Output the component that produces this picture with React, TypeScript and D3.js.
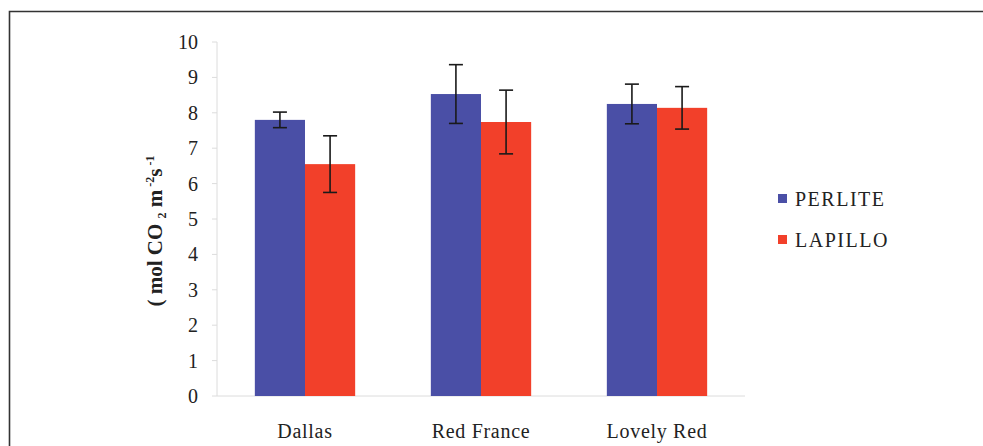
import React from "react";
import * as d3 from "d3";

const categories = ["Dallas", "Red France", "Lovely Red"];
const seriesNames = ["PERLITE", "LAPILLO"];
const perliteValues = [7.8, 8.53, 8.25];
const perliteErrors = [0.22, 0.83, 0.56];
const lapilloValues = [6.55, 7.74, 8.14];
const lapilloErrors = [0.8, 0.9, 0.6];
const yTicks = [0, 1, 2, 3, 4, 5, 6, 7, 8, 9, 10];

const colors = ["#4a4fa6", "#f2402a"];
const W = 983;
const H = 446;
const font = "'Liberation Serif', 'Times New Roman', serif";

export default function App() {
  const x = d3.scaleBand().domain(categories).range([217, 745]).paddingInner(0.43).paddingOuter(0.215);
  const xs = d3.scaleBand().domain(seriesNames).range([0, x.bandwidth()]);
  const y = d3.scaleLinear().domain([0, 10]).range([396, 42]);
  const series = [
    { name: seriesNames[0], values: perliteValues, errors: perliteErrors },
    { name: seriesNames[1], values: lapilloValues, errors: lapilloErrors },
  ];

  return (
    <svg width={W} height={H} style={{ position: "absolute", left: 0, top: 0, background: "#fff", fontFamily: font }}>
      {/* frame */}
      <path d={`M9.5,${H} V11.5 H${W}`} fill="none" stroke="#333" strokeWidth={1.6} />

      {/* axes */}
      <line x1={217} x2={217} y1={y(10)} y2={y(0)} stroke="#dcdcdc" />
      <line x1={217} x2={745} y1={y(0)} y2={y(0)} stroke="#dcdcdc" />
      {yTicks.map((t) => (
        <g key={t}>
          <line x1={212} x2={217} y1={y(t)} y2={y(t)} stroke="#dcdcdc" />
          <text x={198} y={y(t)} dy="0.35em" textAnchor="end" fontSize={20} fill="#222">
            {t}
          </text>
        </g>
      ))}

      {/* bars */}
      {series.map((s, si) =>
        categories.map((c, ci) => {
          const bx = (x(c) ?? 0) + (xs(s.name) ?? 0);
          const v = s.values[ci];
          return (
            <rect key={`${si}-${ci}`} x={bx} y={y(v)} width={xs.bandwidth()} height={y(0) - y(v)} fill={colors[si]} />
          );
        })
      )}

      {/* error bars */}
      {series.map((s, si) =>
        categories.map((c, ci) => {
          const cx = (x(c) ?? 0) + (xs(s.name) ?? 0) + xs.bandwidth() / 2;
          const v = s.values[ci];
          const e = s.errors[ci];
          return (
            <g key={`e${si}-${ci}`} stroke="#1a1a1a" strokeWidth={1.6}>
              <line x1={cx} x2={cx} y1={y(v + e)} y2={y(v - e)} />
              <line x1={cx - 7} x2={cx + 7} y1={y(v + e)} y2={y(v + e)} />
              <line x1={cx - 7} x2={cx + 7} y1={y(v - e)} y2={y(v - e)} />
            </g>
          );
        })
      )}

      {/* category labels */}
      {categories.map((c) => (
        <text key={c} x={(x(c) ?? 0) + x.bandwidth() / 2} y={438} textAnchor="middle" fontSize={20} letterSpacing={0.7} fill="#222">
          {c}
        </text>
      ))}

      {/* y axis title */}
      <text transform="translate(162,231) rotate(-90)" textAnchor="middle" fontSize={21} fontWeight="bold" fill="#222">
        <tspan>(  mol CO </tspan>
        <tspan fontSize={12} dy={4}> 2</tspan>
        <tspan dy={-4}> m</tspan>
        <tspan fontSize={12} dy={-8}> -2</tspan>
        <tspan dy={8}>s</tspan>
        <tspan fontSize={12} dy={-8}> -1</tspan>
      </text>

      {/* legend */}
      {seriesNames.map((n, i) => (
        <g key={n} transform={`translate(778,${199 + i * 41})`}>
          <rect x={0} y={-5} width={9} height={9} fill={colors[i]} />
          <text x={17} y={0} dy="0.35em" fontSize={20} letterSpacing={1.5} fill="#222">
            {n}
          </text>
        </g>
      ))}
    </svg>
  );
}
